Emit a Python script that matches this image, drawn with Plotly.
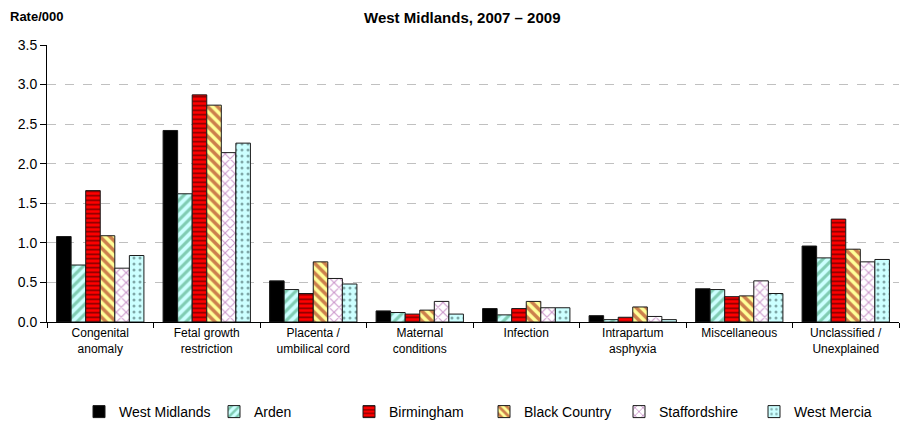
import plotly.graph_objects as go

categories = ["Congenital<br>anomaly", "Fetal growth<br>restriction", "Placenta /<br>umbilical cord",
              "Maternal<br>conditions", "Infection", "Intrapartum<br>asphyxia",
              "Miscellaneous", "Unclassified /<br>Unexplained"]

west_midlands = [1.08, 2.42, 0.52, 0.14, 0.17, 0.08, 0.42, 0.96]
arden = [0.72, 1.62, 0.41, 0.12, 0.09, 0.03, 0.41, 0.81]
birmingham = [1.66, 2.87, 0.36, 0.10, 0.17, 0.06, 0.32, 1.30]
black_country = [1.09, 2.74, 0.76, 0.15, 0.26, 0.19, 0.33, 0.92]
staffordshire = [0.68, 2.14, 0.55, 0.26, 0.18, 0.07, 0.52, 0.76]
west_mercia = [0.84, 2.26, 0.48, 0.10, 0.18, 0.03, 0.36, 0.79]

series = [
    ("West Midlands", west_midlands, dict(color="#000000")),
    ("Arden", arden, dict(color="#CCFFFF", pattern=dict(shape="/", fgcolor="#339966", bgcolor="#CCFFFF", size=7, solidity=0.45))),
    ("Birmingham", birmingham, dict(color="#FF0000", pattern=dict(shape="-", fgcolor="#000000", bgcolor="#FF0000", size=4.5, solidity=0.35))),
    ("Black Country", black_country, dict(color="#FFFF99", pattern=dict(shape="\\", fgcolor="#990000", bgcolor="#FFFF99", size=7, solidity=0.5))),
    ("Staffordshire", staffordshire, dict(color="#FFFFFF", pattern=dict(shape="x", fgcolor="#993399", bgcolor="#FFFFFF", size=7, solidity=0.3))),
    ("West Mercia", west_mercia, dict(color="#CCFFFF", pattern=dict(shape=".", fgcolor="#2F4F4F", bgcolor="#CCFFFF", size=6, solidity=0.2))),
]

fig = go.Figure()
for name, vals, mk in series:
    mk = dict(mk)
    mk["line"] = dict(color="#1a1a1a", width=1)
    fig.add_trace(go.Bar(name=name, x=categories, y=vals, marker=mk))

fig.update_layout(
    width=912, height=431,
    paper_bgcolor="white", plot_bgcolor="white",
    margin=dict(l=39, r=21, t=37, b=117, autoexpand=False),
    barmode="group", bargap=0.18, bargroupgap=0,
    font=dict(family="Liberation Sans, Arial, sans-serif", color="black", size=12),
    legend=dict(orientation="h", xref="container", yref="container",
                x=71/912, xanchor="left", y=27/431, yanchor="middle",
                font=dict(size=14), entrywidth=90, itemwidth=30),
    showlegend=True,
)
fig.update_xaxes(showline=True, linecolor="black", linewidth=1, ticks="outside",
                 tickson="boundaries", ticklen=5, tickcolor="black",
                 tickfont=dict(size=12), automargin=False)
fig.update_yaxes(range=[0, 3.5], dtick=0.5, tickformat=".1f", showline=True,
                 linecolor="black", linewidth=1, ticks="outside", ticklen=6,
                 tickcolor="black", showgrid=True, gridcolor="#c0c0c0",
                 griddash="dash", gridwidth=1, zeroline=False,
                 tickfont=dict(size=14), automargin=False)

fig.add_annotation(text="<b>Rate/000</b>", xref="paper", yref="paper",
                   x=(0-39)/852, y=1 + (37-9)/277, xanchor="left", yanchor="middle",
                   showarrow=False, font=dict(size=13))
fig.add_annotation(text="<b>West Midlands, 2007 – 2009</b>", xref="paper", yref="paper",
                   x=(454-39)/852, y=1 + (37-10)/277, xanchor="center", yanchor="middle",
                   showarrow=False, font=dict(size=15))

fig.write_html("out.html")
